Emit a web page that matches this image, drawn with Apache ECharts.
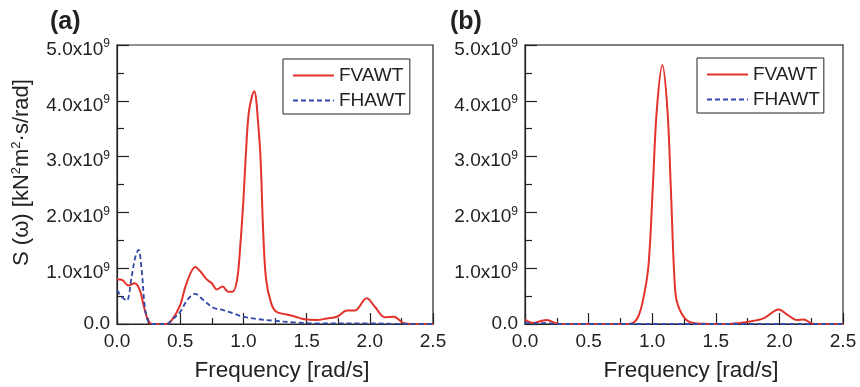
<!DOCTYPE html>
<html>
<head>
<meta charset="utf-8">
<script src="https://cdn.jsdelivr.net/npm/echarts@6/dist/echarts.min.js"></script>
<style>
  html, body { margin: 0; padding: 0; background: #fff; }
  #chart { width: 860px; height: 387px; }
</style>
</head>
<body>
<div id="chart"></div>
<script>
// values in units of 1e9 kN^2 m^2 s/rad
const freqFvawtA = [0, 0.04, 0.09, 0.14, 0.18, 0.21, 0.235, 0.26, 0.3, 0.39, 0.43, 0.5, 0.55, 0.62, 0.66, 0.71, 0.75, 0.79, 0.835, 0.88, 0.915, 0.95, 0.975, 1.0, 1.02, 1.045, 1.085, 1.12, 1.137, 1.157, 1.18, 1.22, 1.26, 1.34, 1.4, 1.47, 1.58, 1.66, 1.74, 1.82, 1.88, 1.975, 2.04, 2.12, 2.19, 2.265, 2.35, 2.5]
const fvawtA = [0.80, 0.79, 0.69, 0.73, 0.61, 0.34, 0.13, 0.02, 0.0, 0.0, 0.06, 0.34, 0.73, 1.02, 0.94, 0.80, 0.73, 0.62, 0.67, 0.58, 0.58, 0.79, 1.39, 2.22, 3.06, 3.83, 4.17, 3.5, 2.9, 1.63, 0.79, 0.37, 0.22, 0.17, 0.14, 0.09, 0.07, 0.10, 0.13, 0.24, 0.24, 0.46, 0.31, 0.12, 0.13, 0.02, 0.0, 0.0]

const freqFhawtA = [0, 0.04, 0.077, 0.116, 0.145, 0.17, 0.195, 0.22, 0.248, 0.28, 0.4, 0.42, 0.5, 0.556, 0.617, 0.683, 0.762, 0.84, 0.92, 1.0, 1.105, 1.237, 1.395, 1.6, 2.0, 2.3, 2.5]
const fhawtA = [0.61, 0.48, 0.42, 0.85, 1.2, 1.33, 0.97, 0.31, 0.04, 0.0, 0.0, 0.04, 0.22, 0.43, 0.54, 0.43, 0.29, 0.25, 0.19, 0.13, 0.09, 0.06, 0.03, 0.01, 0.01, 0.0, 0.0]

const freqFvawtB = [0, 0.066, 0.12, 0.17, 0.25, 0.3, 0.8, 0.85, 0.89, 0.93, 0.97, 1.005, 1.036, 1.08, 1.12, 1.146, 1.18, 1.206, 1.27, 1.35, 1.6, 1.69, 1.757, 1.875, 1.995, 2.06, 2.14, 2.19, 2.255, 2.3, 2.5]
const fvawtB = [0.08, 0.02, 0.05, 0.07, 0.01, 0.0, 0.0, 0.02, 0.13, 0.45, 1.03, 2.46, 3.83, 4.64, 3.83, 2.46, 0.61, 0.31, 0.07, 0.01, 0.0, 0.02, 0.04, 0.10, 0.26, 0.17, 0.07, 0.08, 0.01, 0.0, 0.0]

const freqFhawtB = [0, 0.1, 0.17, 0.25, 0.5, 1.0, 1.5, 2.0, 2.5]
const fhawtB = [0.02, 0.01, 0.02, 0.0, 0.0, 0.0, 0.0, 0.0, 0.0]

const xTicks = { min: 0, max: 2.5, interval: 0.5 }
const yTicks = { min: 0, max: 5, interval: 1 }

const dark = "#222"
const red = "#e2322b"
const blue = "#3149a8"
const font = "Liberation Sans"

const chart = echarts.init(document.getElementById("chart"), null, { renderer: "canvas" })

const pairs = (xs, ys) => xs.map((x, i) => [x, ys[i]])

const xAxisFor = (gridIndex) => ({
  type: "value",
  gridIndex,
  min: xTicks.min,
  max: xTicks.max,
  interval: xTicks.interval,
  name: "Frequency [rad/s]",
  nameLocation: "middle",
  nameGap: 35,
  nameTextStyle: { fontSize: 22.5, color: dark, fontFamily: font, padding: [0, 0, 0, 14] },
  axisLine: { lineStyle: { color: dark, width: 1.2 } },
  axisTick: { inside: true, length: 11, lineStyle: { color: dark, width: 1.2 } },
  minorTick: { show: true, splitNumber: 2, length: 6, lineStyle: { color: dark, width: 1.2 } },
  axisLabel: {
    fontSize: 19, color: dark, margin: 8, fontFamily: font,
    formatter: (v) => v.toFixed(1),
  },
  splitLine: { show: false },
})

const yAxisFor = (gridIndex, withName) => ({
  type: "value",
  gridIndex,
  min: yTicks.min,
  max: yTicks.max,
  interval: yTicks.interval,
  name: withName ? "S (ω) [kN{s|2}m{s|2}·s/rad]" : "",
  nameLocation: "middle",
  nameRotate: 90,
  nameGap: 84,
  nameTextStyle: {
    fontSize: 22, color: dark, fontFamily: font,
    padding: [0, 0, 0, 24],
    rich: { s: { fontSize: 13, color: dark, fontFamily: font, verticalAlign: "top", padding: [0, 0, 10, 0] } },
  },
  axisLine: { lineStyle: { color: dark, width: 1.2 } },
  axisTick: { inside: true, length: 12, lineStyle: { color: dark, width: 1.2 } },
  minorTick: { show: true, splitNumber: 2, length: 7, lineStyle: { color: dark, width: 1.2 } },
  axisLabel: {
    fontSize: 19, color: dark, margin: 7, fontFamily: font,
    formatter: (v) => (v === 0 ? "{n|0.0}" : "{n|" + v.toFixed(1) + "x10}{s|9}"),
    rich: {
      n: { fontSize: 19, color: dark, fontFamily: font, verticalAlign: "bottom" },
      s: { fontSize: 12, color: dark, fontFamily: font, verticalAlign: "top", padding: [7, 0, 9, 0] },
    },
  },
  splitLine: { show: false },
})

const legendFor = (left, top) => ({
  orient: "vertical",
  left,
  top,
  data: ["FVAWT", "FHAWT"],
  borderColor: dark,
  borderWidth: 1,
  borderRadius: 0,
  padding: [7, 4, 4, 9],
  itemWidth: 41,
  itemHeight: 12,
  itemGap: 6,
  itemStyle: { opacity: 0 },
  textStyle: { fontSize: 19, color: dark, fontFamily: font },
})

const lineSeries = (name, idx, data, color, dashed) => ({
  name,
  type: "line",
  xAxisIndex: idx,
  yAxisIndex: idx,
  data,
  smooth: 0.35,
  symbol: "none",
  lineStyle: { color, width: dashed ? 1.8 : 2, type: dashed ? [5, 3] : "solid" },
  itemStyle: { color },
  clip: true,
  z: dashed ? 3 : 2,
})

chart.setOption({
  animation: false,
  backgroundColor: "#fff",
  grid: [
    { left: 117, top: 45, width: 316, height: 279, show: true, borderColor: dark, borderWidth: 1.2, containLabel: false },
    { left: 525, top: 45, width: 318, height: 279, show: true, borderColor: "#555", borderWidth: 1.5, containLabel: false },
  ],
  xAxis: [xAxisFor(0), xAxisFor(1)],
  yAxis: [yAxisFor(0, true), yAxisFor(1, false)],
  legend: [legendFor(283, 59), legendFor(697, 58)],
  series: [
    lineSeries("FVAWT", 0, pairs(freqFvawtA, fvawtA), red, false),
    lineSeries("FHAWT", 0, pairs(freqFhawtA, fhawtA), blue, true),
    lineSeries("FVAWT", 1, pairs(freqFvawtB, fvawtB), red, false),
    lineSeries("FHAWT", 1, pairs(freqFhawtB, fhawtB), blue, true),
  ],
  graphic: [
    { type: "text", left: 50, top: 10, style: { text: "(a)", fontSize: 25, fontWeight: "bold", fill: dark, fontFamily: font } },
    { type: "text", left: 450, top: 10, style: { text: "(b)", fontSize: 25, fontWeight: "bold", fill: dark, fontFamily: font } },
  ],
})
</script>
</body>
</html>
